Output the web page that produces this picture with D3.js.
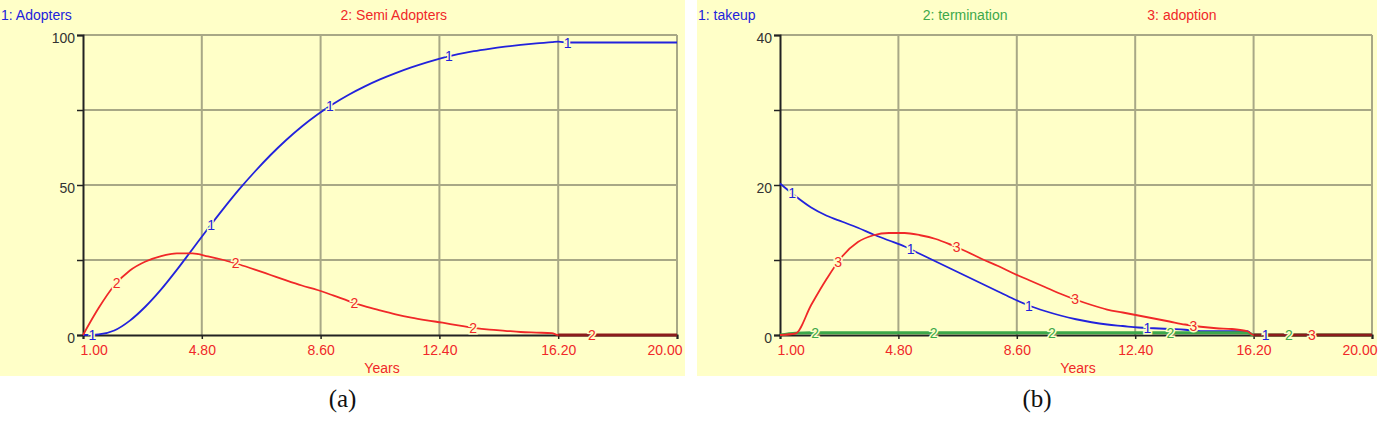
<!DOCTYPE html>
<html>
<head>
<meta charset="utf-8">
<script src="https://cdn.jsdelivr.net/npm/d3@7"></script>
<style>
body { margin: 0; background: #fff; }
svg { display: block; font-family: "Liberation Sans", Arial, sans-serif; }
</style>
</head>
<body>
<svg width="1384" height="423"></svg>
<script>
// simulation output
const years = [1, 1.5, 2, 2.5, 3, 3.5, 4, 4.5, 5, 5.5, 6, 6.5, 7, 7.5, 8, 8.5, 9, 9.5, 10, 10.5,
    11, 11.5, 12, 12.5, 13, 13.5, 14, 14.5, 15, 15.5, 16, 16.2, 16.5, 17, 17.5, 18, 18.5, 19, 19.5, 20];

const adopters = [0, 0.2, 1.5, 4.8, 9.5, 15.2, 21.7, 28.6, 35.5, 42.2, 48.6, 54.5, 60, 65, 69.5, 73.5, 77, 80.1, 82.8, 85.2,
    87.3, 89.2, 90.9, 92.4, 93.6, 94.6, 95.4, 96.1, 96.7, 97.2, 97.6, 97.8, 97.5, 97.5, 97.5, 97.5, 97.5, 97.5, 97.5, 97.5];
const semiAdopters = [0, 9, 16.5, 21.5, 24.5, 26.3, 27.2, 27.2, 26.2, 25, 23.5, 21.8, 20, 18.2, 16.5, 15, 13.2, 11.3, 9.6, 8.2,
    6.9, 5.8, 4.9, 4.1, 3.2, 2.4, 1.8, 1.4, 1.0, 0.8, 0.6, 0, 0, 0, 0, 0, 0, 0, 0, 0];

const takeup = [20.2, 18.5, 17, 15.9, 15.1, 14.3, 13.4, 12.6, 11.8, 10.8, 9.8, 8.8, 7.8, 6.8, 5.8, 4.8, 3.9, 3.2, 2.6, 2.1,
    1.7, 1.4, 1.2, 1.0, 0.9, 0.8, 0.7, 0.5, 0.5, 0.5, 0.5, 0, 0, 0, 0, 0, 0, 0, 0, 0];
const termination = [0, 0.25, 0.3, 0.3, 0.3, 0.3, 0.3, 0.3, 0.3, 0.3, 0.3, 0.3, 0.3, 0.3, 0.3, 0.3, 0.3, 0.3, 0.3, 0.3,
    0.3, 0.3, 0.3, 0.3, 0.3, 0.3, 0.3, 0.3, 0.3, 0.3, 0.3, 0, 0, 0, 0, 0, 0, 0, 0, 0];
const adoption = [0, 0.2, 4, 7.5, 10.5, 12.4, 13.3, 13.6, 13.6, 13.3, 12.8, 12, 11.1, 10.1, 9.2, 8.2, 7.3, 6.4, 5.5, 4.7,
    4.0, 3.4, 3.0, 2.6, 2.2, 1.8, 1.4, 1.1, 0.9, 0.8, 0.5, 0, 0, 0, 0, 0, 0, 0, 0, 0];

const xTicks = [1, 4.8, 8.6, 12.4, 16.2, 20];
const leftYTicks = [0, 25, 50, 75, 100];
const leftYLabels = [0, 50, 100];
const rightYTicks = [0, 10, 20, 30, 40];
const rightYLabels = [0, 20, 40];

const leftNames = ['1: Adopters', '2: Semi Adopters'];
const rightNames = ['1: takeup', '2: termination', '3: adoption'];

const bg = '#ffffc8';
const gridColor = '#a8a886';
const blue = '#2222dc';
const red = '#f02828';
const green = '#3da84a';
const fs = 14;

const svg = d3.select('svg');

function valueAt(vals, t) {
    for (let i = 0; i < years.length - 1; i++) {
        if (t >= years[i] && t <= years[i + 1]) {
            let f = (t - years[i]) / (years[i + 1] - years[i]);
            return vals[i] + f * (vals[i + 1] - vals[i]);
        }
    }
    return vals[vals.length - 1];
}

function drawPanel(cfg) {
    const g = svg.append('g');

    g.append('rect')
        .attr('x', cfg.x0).attr('y', 0)
        .attr('width', cfg.w).attr('height', 376)
        .attr('fill', bg);

    const x = d3.scaleLinear().domain([1, 20]).range([cfg.left, cfg.right]);
    const y = d3.scaleLinear().domain([0, cfg.yMax]).range([335, 35]);

    // grid
    g.selectAll('.vgrid')
        .data(xTicks.slice(1))
        .join('line')
        .attr('x1', d => x(d)).attr('x2', d => x(d))
        .attr('y1', y(0)).attr('y2', y(cfg.yMax))
        .attr('stroke', gridColor).attr('stroke-width', 2);
    g.selectAll('.hgrid')
        .data(cfg.yTicks.slice(1))
        .join('line')
        .attr('x1', x(1)).attr('x2', x(20))
        .attr('y1', d => y(d)).attr('y2', d => y(d))
        .attr('stroke', gridColor).attr('stroke-width', 2);

    // axes
    const yAxis = g.append('g')
        .attr('transform', `translate(${cfg.left},0)`)
        .call(d3.axisLeft(y).tickValues(cfg.yTicks).tickSize(6).tickPadding(2)
            .tickFormat(d => cfg.yLabels.includes(d) ? d : ''));
    yAxis.select('.domain').attr('stroke', '#222').attr('stroke-width', 2);
    yAxis.selectAll('.tick line').attr('stroke', '#222').attr('stroke-width', 1.5);
    yAxis.selectAll('.tick text')
        .attr('fill', '#333').attr('font-size', fs)
        .attr('dy', '0.5em')
        .style('font-family', '"Liberation Sans", Arial, sans-serif');

    const xAxis = g.append('g')
        .attr('transform', `translate(0,${y(0)})`)
        .call(d3.axisBottom(x).tickValues(xTicks).tickSize(4).tickPadding(6)
            .tickFormat(d3.format('.2f')));
    xAxis.select('.domain').attr('stroke', '#222').attr('stroke-width', 2);
    xAxis.selectAll('.tick line').attr('stroke', '#222').attr('stroke-width', 1.5);
    xAxis.selectAll('.tick text')
        .attr('fill', red).attr('font-size', fs)
        .style('font-family', '"Liberation Sans", Arial, sans-serif')
        .attr('text-anchor', (d, i) => i === 0 ? 'start' : (i === xTicks.length - 1 ? 'end' : 'middle'))
        .attr('dx', (d, i) => i === 0 ? -3 : (i === xTicks.length - 1 ? 5 : 0));

    g.append('text')
        .attr('x', (cfg.left + cfg.right) / 2 + 2)
        .attr('y', 373)
        .attr('text-anchor', 'middle')
        .attr('font-size', fs)
        .attr('fill', red)
        .text('Years');

    // legend
    cfg.series.forEach((s, i) => {
        g.append('text')
            .attr('x', cfg.x0 + 1 + i * (cfg.w - 6) / cfg.series.length)
            .attr('y', 20)
            .attr('font-size', fs)
            .attr('fill', s.color)
            .text(s.name);
    });

    // lines
    const line = d3.line()
        .x((d, i) => x(years[i]))
        .y(d => y(d))
        .curve(d3.curveMonotoneX);

    cfg.series.forEach(s => {
        g.append('path')
            .datum(s.values)
            .attr('fill', 'none')
            .attr('stroke', s.color)
            .attr('stroke-width', s.width || 1.8)
            .attr('d', line);
    });

    // tail where all overlapping series sit at zero
    const last = cfg.series[cfg.series.length - 1].values;
    const tail = years.map((t, i) => ({t: t, v: last[i]})).filter(d => d.t >= 16.2);
    g.append('path')
        .datum(tail)
        .attr('fill', 'none')
        .attr('stroke', '#8b1c1c')
        .attr('stroke-width', 3)
        .attr('d', d3.line().x(d => x(d.t)).y(d => y(d.v)));

    // curve number labels
    cfg.series.forEach((s, k) => {
        for (let j = 0; j < 5; j++) {
            let t = cfg.labelStart + j * 3.8 + k * cfg.labelStep;
            g.append('text')
                .attr('x', x(t))
                .attr('y', y(valueAt(s.values, t)))
                .attr('dy', '0.36em')
                .attr('text-anchor', 'middle')
                .attr('font-size', fs)
                .attr('fill', s.color)
                .attr('stroke', bg)
                .attr('stroke-width', 3)
                .attr('paint-order', 'stroke')
                .text(k + 1);
        }
    });

    svg.append('text')
        .attr('x', cfg.x0 + cfg.w / 2)
        .attr('y', 407)
        .attr('text-anchor', 'middle')
        .attr('font-size', 25)
        .style('font-family', '"Liberation Serif", "Times New Roman", serif')
        .attr('fill', '#111')
        .text(cfg.caption);
}

drawPanel({
    x0: 0, w: 685, left: 83, right: 677,
    yMax: 100, yTicks: leftYTicks, yLabels: leftYLabels,
    labelStart: 1.3, labelStep: 0.78,
    caption: '(a)',
    series: [
        {name: leftNames[0], values: adopters, color: blue},
        {name: leftNames[1], values: semiAdopters, color: red}
    ]
});

drawPanel({
    x0: 697, w: 680, left: 780, right: 1372,
    yMax: 40, yTicks: rightYTicks, yLabels: rightYLabels,
    labelStart: 1.39, labelStep: 0.74,
    caption: '(b)',
    series: [
        {name: rightNames[0], values: takeup, color: blue},
        {name: rightNames[1], values: termination, color: green, width: 3},
        {name: rightNames[2], values: adoption, color: red}
    ]
});
</script>
</body>
</html>
